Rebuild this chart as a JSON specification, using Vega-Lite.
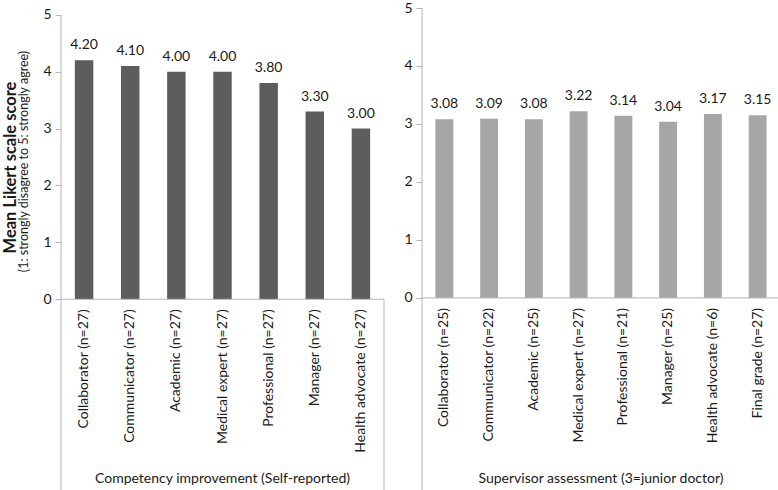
{
  "$schema": "https://vega.github.io/schema/vega-lite/v6.json",
  "padding": {"left": 2, "top": 1, "right": 0, "bottom": 0},
  "spacing": 18,
  "background": "white",
  "config": {
    "font": "Lato",
    "view": {"stroke": null},
    "axis": {"grid": false, "domain": false, "labelFont": "Lato", "titleFont": "Lato", "labelColor": "#1a1a1a", "titleColor": "#1a1a1a", "tickColor": "#b4b4b4"},
    "text": {"font": "Lato", "color": "#1a1a1a"}
  },
  "hconcat": [
    {
      "width": 323,
      "height": 483,
      "resolve": {"scale": {"x": "independent"}, "axis": {"y": "independent"}},
      "layer": [
        {
          "data": {"name": "self"},
          "mark": {"type": "bar", "color": "#5d5d5d"},
          "encoding": {
            "x": {"field": "category", "type": "nominal", "sort": null, "scale": {"paddingInner": 0.6}, "axis": null},
            "y": {"field": "score", "type": "quantitative", "scale": {"domain": [-3.37, 5.12], "nice": false, "zero": false},
              "axis": {"orient": "left", "values": [0, 1, 2, 3, 4, 5], "format": "d", "labelFontSize": 14, "tickSize": 6, "labelPadding": 4,
                "title": "(1: strongly disagree to 5: strongly agree)", "titleFontSize": 12.5, "titleFontWeight": "normal",
                "titleAngle": 270, "titleAlign": "center", "titleBaseline": "middle", "titleX": -38, "titleY": 153}}
          }
        },
        {
          "data": {"name": "self"},
          "mark": {"type": "text", "baseline": "bottom", "dy": -8, "fontSize": 14},
          "encoding": {
            "x": {"field": "category", "type": "nominal", "sort": null, "scale": {"paddingInner": 0.6}, "axis": null},
            "y": {"field": "score", "type": "quantitative", "scale": {"domain": [-3.37, 5.12], "nice": false, "zero": false}, "axis": null},
            "text": {"field": "score", "type": "quantitative", "format": ".2f"}
          }
        },
        {
          "data": {"name": "self"},
          "mark": {"type": "text", "angle": 270, "align": "right", "baseline": "middle", "dx": -10, "fontSize": 14},
          "encoding": {
            "x": {"field": "category", "type": "nominal", "sort": null, "scale": {"paddingInner": 0.6}, "axis": null},
            "y": {"datum": 0, "type": "quantitative", "scale": {"domain": [-3.37, 5.12], "nice": false, "zero": false}, "axis": null},
            "text": {"field": "category", "type": "nominal"}
          }
        },
        {
          "data": {"values": [{}]},
          "mark": {"type": "rule", "color": "#b4b4b4", "strokeWidth": 1},
          "encoding": {
            "x": {"datum": 0, "type": "quantitative", "scale": {"domain": [0, 1], "nice": false, "zero": false}, "axis": null},
            "y": {"datum": -3.37, "type": "quantitative", "scale": {"domain": [-3.37, 5.12], "nice": false, "zero": false},
              "axis": {"orient": "left", "labels": false, "ticks": false, "domain": false, "title": "Mean Likert scale score", "titleFontSize": 16.5, "titleFontWeight": "bold",
                "titleAngle": 270, "titleAlign": "center", "titleBaseline": "middle", "titleX": -51, "titleY": 159}},
            "y2": {"datum": 5}
          }
        },
        {
          "data": {"values": [{}]},
          "mark": {"type": "rule", "color": "#b4b4b4", "strokeWidth": 1},
          "encoding": {
            "x": {"datum": 1, "type": "quantitative", "scale": {"domain": [0, 1], "nice": false, "zero": false}, "axis": null},
            "y": {"datum": -3.37, "type": "quantitative", "scale": {"domain": [-3.37, 5.12], "nice": false, "zero": false}, "axis": null},
            "y2": {"datum": 0}
          }
        },
        {
          "data": {"values": [{}]},
          "mark": {"type": "rule", "color": "#b4b4b4", "strokeWidth": 1},
          "encoding": {
            "y": {"datum": 0, "type": "quantitative", "scale": {"domain": [-3.37, 5.12], "nice": false, "zero": false}, "axis": null}
          }
        },
        {
          "data": {"values": [{"label": "Competency improvement (Self-reported)"}]},
          "mark": {"type": "text", "baseline": "bottom", "dy": -5, "fontSize": 14},
          "encoding": {
            "x": {"datum": 0.5, "type": "quantitative", "scale": {"domain": [0, 1], "nice": false, "zero": false}, "axis": null},
            "y": {"datum": -3.37, "type": "quantitative", "scale": {"domain": [-3.37, 5.12], "nice": false, "zero": false}, "axis": null},
            "text": {"field": "label", "type": "nominal"}
          }
        }
      ]
    },
    {
      "width": 358,
      "height": 483,
      "resolve": {"scale": {"x": "independent"}, "axis": {"y": "independent"}},
      "layer": [
        {
          "data": {"name": "supervisor"},
          "mark": {"type": "bar", "color": "#a6a6a6"},
          "encoding": {
            "x": {"field": "category", "type": "nominal", "sort": null, "scale": {"paddingInner": 0.6}, "axis": null},
            "y": {"field": "score", "type": "quantitative", "scale": {"domain": [-3.33, 5], "nice": false, "zero": false},
              "axis": {"orient": "left", "values": [0, 1, 2, 3, 4, 5], "format": "d", "labelFontSize": 14, "tickSize": 6, "labelPadding": 4, "title": null}}
          }
        },
        {
          "data": {"name": "supervisor"},
          "mark": {"type": "text", "baseline": "bottom", "dy": -8, "fontSize": 14},
          "encoding": {
            "x": {"field": "category", "type": "nominal", "sort": null, "scale": {"paddingInner": 0.6}, "axis": null},
            "y": {"field": "score", "type": "quantitative", "scale": {"domain": [-3.33, 5], "nice": false, "zero": false}, "axis": null},
            "text": {"field": "score", "type": "quantitative", "format": ".2f"}
          }
        },
        {
          "data": {"name": "supervisor"},
          "mark": {"type": "text", "angle": 270, "align": "right", "baseline": "middle", "dx": -10, "fontSize": 14},
          "encoding": {
            "x": {"field": "category", "type": "nominal", "sort": null, "scale": {"paddingInner": 0.6}, "axis": null},
            "y": {"datum": 0, "type": "quantitative", "scale": {"domain": [-3.33, 5], "nice": false, "zero": false}, "axis": null},
            "text": {"field": "category", "type": "nominal"}
          }
        },
        {
          "data": {"values": [{}]},
          "mark": {"type": "rule", "color": "#b4b4b4", "strokeWidth": 1},
          "encoding": {
            "x": {"datum": 0, "type": "quantitative", "scale": {"domain": [0, 1], "nice": false, "zero": false}, "axis": null},
            "y": {"datum": -3.33, "type": "quantitative", "scale": {"domain": [-3.33, 5], "nice": false, "zero": false}, "axis": null},
            "y2": {"datum": 5}
          }
        },
        {
          "data": {"values": [{}]},
          "mark": {"type": "rule", "color": "#b4b4b4", "strokeWidth": 1},
          "encoding": {
            "x": {"datum": 1, "type": "quantitative", "scale": {"domain": [0, 1], "nice": false, "zero": false}, "axis": null},
            "y": {"datum": -3.33, "type": "quantitative", "scale": {"domain": [-3.33, 5], "nice": false, "zero": false}, "axis": null},
            "y2": {"datum": 0}
          }
        },
        {
          "data": {"values": [{}]},
          "mark": {"type": "rule", "color": "#b4b4b4", "strokeWidth": 1},
          "encoding": {
            "y": {"datum": 0, "type": "quantitative", "scale": {"domain": [-3.33, 5], "nice": false, "zero": false}, "axis": null}
          }
        },
        {
          "data": {"values": [{"label": "Supervisor assessment (3=junior doctor)"}]},
          "mark": {"type": "text", "baseline": "bottom", "dy": -5, "fontSize": 14},
          "encoding": {
            "x": {"datum": 0.5, "type": "quantitative", "scale": {"domain": [0, 1], "nice": false, "zero": false}, "axis": null},
            "y": {"datum": -3.33, "type": "quantitative", "scale": {"domain": [-3.33, 5], "nice": false, "zero": false}, "axis": null},
            "text": {"field": "label", "type": "nominal"}
          }
        }
      ]
    }
  ],
  "datasets": {
    "self": [
      {"category": "Collaborator (n=27)", "score": 4.2},
      {"category": "Communicator (n=27)", "score": 4.1},
      {"category": "Academic (n=27)", "score": 4.0},
      {"category": "Medical expert (n=27)", "score": 4.0},
      {"category": "Professional (n=27)", "score": 3.8},
      {"category": "Manager (n=27)", "score": 3.3},
      {"category": "Health advocate (n=27)", "score": 3.0}
    ],
    "supervisor": [
      {"category": "Collaborator (n=25)", "score": 3.08},
      {"category": "Communicator (n=22)", "score": 3.09},
      {"category": "Academic (n=25)", "score": 3.08},
      {"category": "Medical expert (n=27)", "score": 3.22},
      {"category": "Professional (n=21)", "score": 3.14},
      {"category": "Manager (n=25)", "score": 3.04},
      {"category": "Health advocate (n=6)", "score": 3.17},
      {"category": "Final grade (n=27)", "score": 3.15}
    ]
  }
}
